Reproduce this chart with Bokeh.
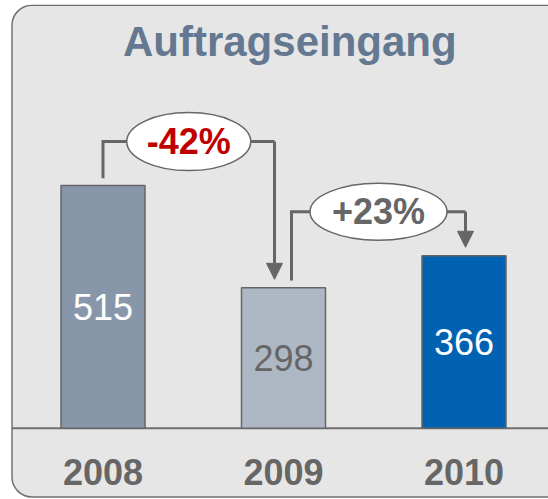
from bokeh.plotting import figure
from bokeh.models import Range1d, Arrow, NormalHead
from bokeh.core.properties import value
from bokeh.embed import file_html
from bokeh.resources import INLINE

# ---- data ----
title = "Auftragseingang"
years = ["2008", "2009", "2010"]
orders = [515, 298, 366]
bar_colors = ["#8796a9", "#aeb8c5", "#0062b1"]
label_colors = ["#ffffff", "#666666", "#ffffff"]
changes = ["-42%", "+23%"]
change_colors = ["#c00000", "#666666"]

# ---- layout constants (pixels) ----
W, H = 540, 495
SX = 180.5      # px per category step
KY = 0.4711     # px per order unit
x0_px = 94.5    # first bar centre, canvas px
base_px = 423.7 # baseline, canvas px from top

x_start = -x0_px / SX
x_end = x_start + W / SX
y_start = -(H - base_px) / KY
y_end = y_start + H / KY

def dx(px): return px / SX
def dy(px): return px / KY
def cx(px): return x_start + px / SX
def cy(px): return y_end - px / KY

FONT = value("Liberation Sans")
GREY = "#666666"

p = figure(width=W, height=H, x_range=Range1d(x_start, x_end),
           y_range=Range1d(y_start, y_end), output_backend="svg",
           toolbar_location=None, min_border=0, margin=(4, 0, 0, 8))
p.axis.visible = False
p.grid.visible = False
p.outline_line_color = None
p.background_fill_color = "white"
p.border_fill_color = "white"

# rounded panel
p.quad(left=cx(3.5), right=cx(565), top=cy(0.75), bottom=cy(492.5),
       fill_color="#e6e6e6", line_color="#707070", line_width=1.5,
       border_radius=20)
# baseline
p.segment(x0=cx(3.5), x1=cx(565), y0=0, y1=0, line_color="#707070", line_width=2)

xs = list(range(len(years)))
p.vbar(x=xs, top=orders, bottom=0, width=dx(84), fill_color=bar_colors,
       line_color=GREY, line_width=1.5)

p.text(x=xs, y=[v / 2 for v in orders], text=[str(v) for v in orders],
       text_color=label_colors, text_font_size="36px", text_align="center",
       text_baseline="middle", text_font=FONT)

p.text(x=xs, y=[-dy(44)] * len(xs), text=years, text_color=GREY,
       text_font_size="36px", text_font_style="bold", text_align="center",
       text_baseline="middle", text_font=FONT)

p.text(x=[cx(281.3)], y=[cy(36.5)], text=[title], text_color="#647891",
       text_font_size="42px", text_font_style="bold", text_align="center",
       text_baseline="middle", text_font=FONT)

start_off = [0, 8]
end_off = [-9, 1.5]
ell_w = [124, 137]
ell_h = [58, 57]
ex, ey_list = [], []
for i in range(len(orders) - 1):
    a, b = orders[i], orders[i + 1]
    xf = xs[i] + dx(start_off[i])
    xt = xs[i + 1] + dx(end_off[i])
    ey = max(a, b) + dy(44)
    p.line([xf, xf, xt], [a + dy(7.3), ey, ey], line_color=GREY, line_width=3,
           line_join="miter")
    p.add_layout(Arrow(end=NormalHead(size=16, fill_color=GREY, line_color=GREY, line_width=1),
                       x_start=xt, y_start=ey, x_end=xt, y_end=b + dy(8.5),
                       line_color=GREY, line_width=3))
    ex.append((xf + xt) / 2)
    ey_list.append(ey)

p.ellipse(x=ex, y=ey_list, width=ell_w, height=ell_h, width_units="screen",
          height_units="screen", fill_color="white", line_color=GREY, line_width=1.5)
p.text(x=ex, y=ey_list, text=changes, text_color=change_colors,
       text_font_size="36px", text_font_style="bold", text_align="center",
       text_baseline="middle", text_font=FONT)

open("out.html", "w").write(file_html(p, INLINE))
